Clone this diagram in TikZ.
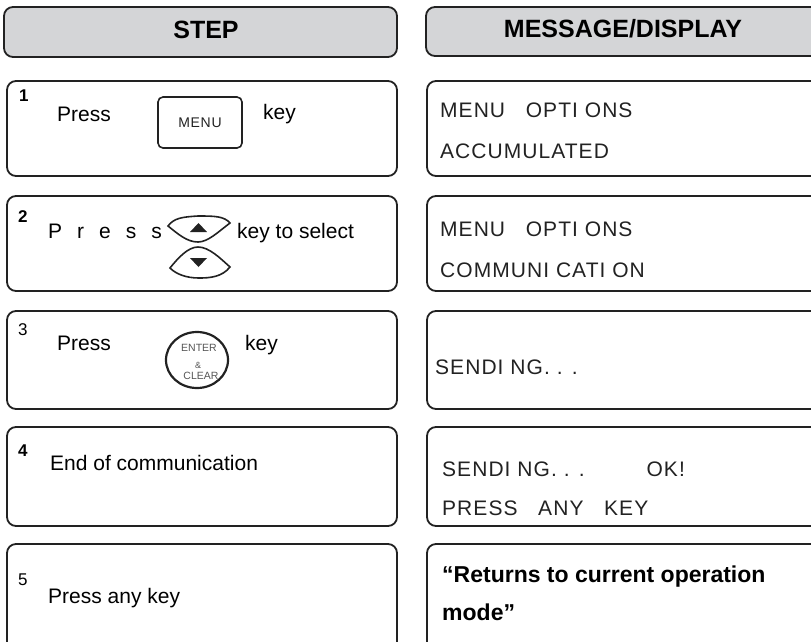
\documentclass[tikz,border=0pt]{standalone}
\usepackage{fontspec}
\setmainfont{Liberation Sans}
\newfontfamily\lcdfont{Liberation Sans}[LetterSpace=5]
\usepackage{xcolor}
\usepackage{tikz}
\usetikzlibrary{positioning}

\definecolor{headgray}{HTML}{D4D5D7}
\definecolor{ink}{HTML}{222222}
\definecolor{keygray}{HTML}{555555}

\begin{document}
\begin{tikzpicture}[
  x=1pt, y=-1pt,
  font=\fontsize{21}{25}\selectfont,
  headbox/.style={draw=ink, fill=headgray, line width=1.8pt, rounded corners=9pt},
  rowbox/.style={draw=ink, line width=1.8pt, rounded corners=9pt},
  keyline/.style={draw=ink, line width=1.6pt},
  headtext/.style={anchor=base, inner sep=0pt, font=\fontsize{25}{30}\selectfont\bfseries},
  numtext/.style={anchor=base west, inner sep=0pt, font=\fontsize{17}{20}\selectfont},
  boldnum/.style={numtext, font=\fontsize{17}{20}\selectfont\bfseries},
  steptext/.style={anchor=base west, inner sep=0pt},
  keytext/.style={inner sep=0pt, text=keygray, font=\fontsize{10.5}{12}\selectfont},
  lcdtext/.style={anchor=base west, inner sep=0pt, text=ink, font=\lcdfont\fontsize{21}{25}\selectfont},
  msgtext/.style={anchor=base west, inner sep=0pt, font=\fontsize{23}{28}\selectfont\bfseries}
]
\useasboundingbox (0,0) rectangle (811,641);
\clip (0,0) rectangle (811,641);

% headers
\draw[headbox] (4,7) rectangle (397,57);
\draw[headbox] (426,7) rectangle (830,56);
\node[headtext] (hstep) at (206,38) {STEP};
\node[headtext] (hmsg) at (623,37.5) {MESSAGE/DISPLAY};

% row frames, left and right column
\foreach \t/\b in {81/176, 196/291, 311/409, 427/526, 544/660}{
  \draw[rowbox] (7,\t) rectangle (397,\b);
  \draw[rowbox] (427,\t) rectangle (830,\b);
}

% --- step 1: MENU key ---
\node[boldnum] (n1) at (19,101) {1};
\node[steptext] (p1) at (57,121) {Press};
\draw[keyline, rounded corners=5pt] (158,97) rectangle (242,148);
\node[inner sep=0pt, text=ink, font=\lcdfont\fontsize{14}{16}\selectfont] (kmenu) at (200,123) {MENU};
\node[steptext] (k1) at (263,119) {key};

% --- step 2: up / down keys ---
\node[boldnum] (n2) at (18,222) {2};
\node[steptext] (p2) at (48,238) {\spaceskip=15pt P r e s s};
\draw[keyline] (168,226) .. controls (174,218) and (182,217) .. (198,216)
  .. controls (214,216) and (224,216) .. (230,223)
  .. controls (218,232) and (208,242) .. (198,242)
  .. controls (187,242) and (178,234) .. (168,226) -- cycle;
\fill[ink] (190,232) -- (207,232) -- (198.5,223) -- cycle;
\draw[keyline] (170,268) .. controls (178,258) and (188,247) .. (198,247)
  .. controls (209,247) and (220,258) .. (230,267)
  .. controls (222,277) and (210,278) .. (199,278)
  .. controls (186,278) and (176,274) .. (170,268) -- cycle;
\fill[ink] (190,258) -- (207,258) -- (198.5,267) -- cycle;
\node[steptext] (k2) at (237,238) {key to select};

% --- step 3: ENTER & CLEAR key ---
\node[numtext] (n3) at (18,335) {3};
\node[steptext] (p3) at (57,350) {Press};
\draw[keyline, line width=2.2pt] (197,360) ellipse [x radius=31pt, y radius=28pt];
\node[keytext] (kenter) at (199,348) {ENTER};
\node[keytext, font=\fontsize{9}{10}\selectfont] (kamp) at (198,365) {\&};
\node[keytext] (kclear) at (201,376) {CLEAR};
\node[steptext] (k3) at (245,350) {key};

% --- step 4 ---
\node[boldnum] (n4) at (18,456) {4};
\node[steptext] (t4) at (50,470) {End of communication};

% --- step 5 ---
\node[numtext] (n5) at (18,585) {5};
\node[steptext] (t5) at (48,603) {Press any key};

% --- display messages ---
\node[lcdtext] (m1a) at (440,117) {MENU\ \ \ OPTI ONS};
\node[lcdtext] (m1b) at (440,158) {ACCUMULATED};
\node[lcdtext] (m2a) at (440,236) {MENU\ \ \ OPTI ONS};
\node[lcdtext] (m2b) at (440,277) {COMMUNI CATI ON};
\node[lcdtext] (m3) at (435,374) {SENDI NG. . .};
\node[lcdtext] (m4a) at (442,476) {SENDI NG. . .\ \ \ \ \ \ \ \ \ OK!};
\node[lcdtext] (m4b) at (442,515) {PRESS\ \ \ ANY\ \ \ KEY};
\node[msgtext] (m5a) at (442,582) {“Returns to current operation};
\node[msgtext] (m5b) at (442,620) {mode”};

\end{tikzpicture}
\end{document}
